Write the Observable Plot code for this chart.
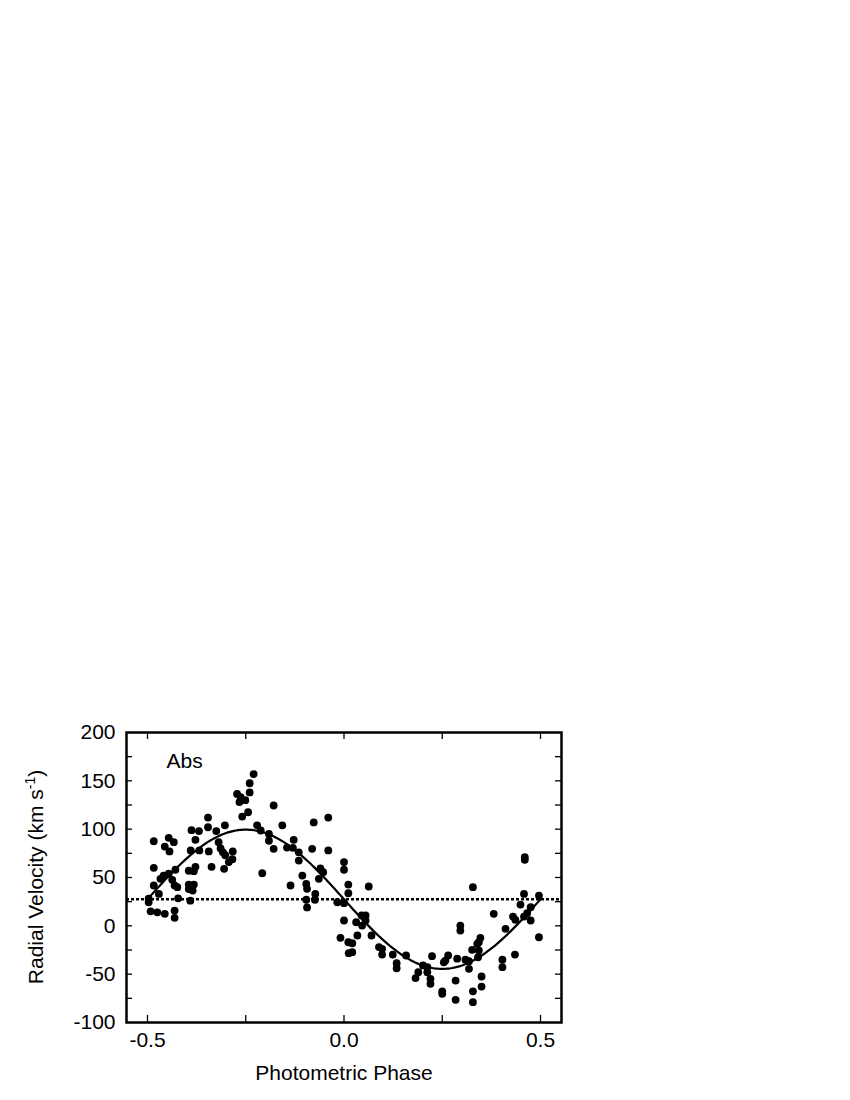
<!DOCTYPE html>
<html>
<head>
<meta charset="utf-8">
<script src="https://cdn.jsdelivr.net/npm/d3@7"></script>
<script src="https://cdn.jsdelivr.net/npm/@observablehq/plot@0.6"></script>
<style>
  html, body { margin: 0; padding: 0; background: #fff; }
  svg { display: block; }
</style>
</head>
<body>
<div id="chart"></div>
<script>
// ---- data ----
const phase = [
  -0.484, -0.446, -0.433, -0.456, -0.444, -0.346, -0.388, -0.369, -0.346, -0.325,
  -0.303, -0.378, -0.390, -0.368, -0.344, -0.319, -0.314, -0.308, -0.302, -0.283,
  -0.284, -0.293, -0.305, -0.337, -0.378, -0.382, -0.395, -0.484, -0.429, -0.446,
  -0.459, -0.467, -0.437, -0.431, -0.424, -0.484, -0.395, -0.382, -0.395, -0.385,
  -0.471, -0.497, -0.497, -0.422, -0.391, -0.492, -0.475, -0.456, -0.431, -0.431,
  -0.230, -0.240, -0.240, -0.272, -0.263, -0.251, -0.266, -0.244, -0.259, -0.179,
  -0.221, -0.212, -0.191, -0.191, -0.157, -0.179, -0.128, -0.145, -0.130, -0.115,
  -0.115, -0.081, -0.077, -0.040, -0.040, -0.208, -0.136, -0.106, -0.096, -0.094,
  -0.096, -0.094, -0.073, -0.074, -0.064, -0.060, -0.053, -0.017, 0.000, 0.000,
  0.000, 0.000, 0.011, 0.011, 0.063, 0.031, 0.045, 0.055, 0.046, 0.055,
  -0.009, 0.011, 0.021, 0.034, 0.012, 0.021, 0.070, 0.089, 0.097, 0.097,
  0.124, 0.134, 0.134, 0.158, 0.189, 0.182, 0.201, 0.212, 0.212, 0.220,
  0.220, 0.224, 0.250, 0.250, 0.254, 0.460, 0.460, 0.328, 0.458, 0.496,
  0.449, 0.475, 0.381, 0.430, 0.436, 0.458, 0.466, 0.475, 0.496, 0.296,
  0.296, 0.411, 0.347, 0.343, 0.339, 0.326, 0.343, 0.341, 0.318, 0.318,
  0.309, 0.288, 0.265, 0.258, 0.403, 0.403, 0.435, 0.284, 0.284, 0.328,
  0.328, 0.350, 0.350
];
const velocity = [
  87.5, 91, 86.5, 82, 77, 112, 99, 98, 102, 98,
  104, 89, 78, 78, 77, 86.5, 80, 76, 73, 77,
  69, 66, 59, 61, 61, 56.5, 57, 60, 58, 54,
  52, 48.6, 47.6, 41.7, 40, 41.7, 42.7, 42.7, 38, 36.5,
  33, 28, 24.4, 28.5, 26, 15, 14, 12.4, 15.8, 8.3,
  157, 147.5, 138, 136.5, 133, 130, 128, 117.5, 113, 124.5,
  104, 98.6, 95, 88, 104, 79.7, 89, 81, 80.7, 76,
  67.5, 79.7, 107, 112, 78, 54.4, 41.7, 52, 43.4, 38.3,
  27, 19, 33, 27, 48.6, 59.3, 55.5, 24.4, 66, 58,
  23.4, 5.5, 42.7, 33.7, 40.7, 3.7, 10.7, 10.7, 0.3, 5.5,
  -12.4, -17, -18, -10, -28.3, -27.3, -10, -22, -23.8, -29.7,
  -29.7, -38.7, -43.9, -30.7, -48, -54, -41, -42.8, -48, -54.8,
  -60, -31.4, -67.7, -70.3, -37.7, 71, 68.3, 40, 33, 31.3,
  22, 19.2, 12.4, 9.6, 6.2, 9.6, 13, 5.5, -11.8, 0.3,
  -4.9, -3.1, -12.4, -17, -18.6, -24.8, -25.5, -32.5, -36.6, -44.5,
  -35, -34, -30.7, -35.9, -35, -42.8, -29.7, -56.6, -76.5, -67.7,
  -79, -52.4, -62.8
];
// fitted orbit (systemic velocity and semi-amplitude, km/s)
const systemicVelocity = 27.5;
const semiAmplitude = 72;

const yTickLabels = [-100, -50, 0, 50, 100, 150, 200];
const yTickMarks = [-75, -50, -25, 0, 25, 50, 75, 100, 125, 150, 175];
const xTickLabels = [-0.5, 0, 0.5];
const xTickMarks = [-0.5, -0.25, 0, 0.25, 0.5];
const panelLabel = "Abs";
const xTitle = "Photometric Phase";
const yTitleMain = "Radial Velocity (km s";
const yTitleSup = "-1";
const yTitleEnd = ")";

// ---- layout ----
const W = 850, H = 1100;
const mL = 126, mR = 289, mT = 732, mB = 78;
const fw = W - mL - mR, fh = H - mT - mB;
const FONT = "'Liberation Sans', Arial, Helvetica, sans-serif";

const points = phase.map((p, i) => ({phase: p, rv: velocity[i]}));
const curve = d3.range(-0.5, 0.5 + 1e-9, 0.005)
  .map(p => ({phase: p, rv: systemicVelocity - semiAmplitude * Math.sin(2 * Math.PI * p)}));

const chart = Plot.plot({
  width: W,
  height: H,
  marginLeft: mL,
  marginRight: mR,
  marginTop: mT,
  marginBottom: mB,
  style: {fontFamily: FONT, fontSize: "21px", color: "#000", background: "#fff"},
  x: {domain: [-0.5534, 0.5534]},
  y: {domain: [-100, 200]},
  marks: [
    Plot.ruleY([systemicVelocity], {stroke: "#000", strokeWidth: 2.5, strokeDasharray: "3,2"}),
    Plot.line(curve, {x: "phase", y: "rv", stroke: "#000", strokeWidth: 2.2}),
    Plot.dot(points, {x: "phase", y: "rv", r: 3.9, fill: "#000", stroke: "none"}),
    // inward ticks on all four sides
    Plot.tickY(yTickMarks, {y: d => d, insetRight: fw - 6, stroke: "#000", strokeWidth: 1.3}),
    Plot.tickY(yTickMarks, {y: d => d, insetLeft: fw - 6, stroke: "#000", strokeWidth: 1.3}),
    Plot.tickX(xTickMarks, {x: d => d, insetTop: fh - 7, stroke: "#000", strokeWidth: 1.3}),
    Plot.tickX(xTickMarks, {x: d => d, insetBottom: fh - 7, stroke: "#000", strokeWidth: 1.3}),
    Plot.frame({stroke: "#000", strokeWidth: 2.5}),
    Plot.axisX(xTickLabels, {tickSize: 0, tickPadding: 10, tickFormat: d => d.toFixed(1), label: null, fill: "#000"}),
    Plot.axisY(yTickLabels, {tickSize: 0, tickPadding: 11, tickFormat: d => String(d), label: null, fill: "#000"}),
    Plot.text([panelLabel], {frameAnchor: "top-left", textAnchor: "start", lineAnchor: "top", dx: 40, dy: 21, fill: "#000"}),
    Plot.text([xTitle], {frameAnchor: "bottom", textAnchor: "middle", lineAnchor: "bottom", dy: 57, fill: "#000"})
  ]
});

// y-axis title with superscript
const svg = d3.select(chart);
const yt = svg.append("text")
  .attr("transform", `translate(43,${mT + fh / 2}) rotate(-90)`)
  .attr("text-anchor", "middle")
  .attr("font-family", FONT)
  .attr("font-size", 21)
  .attr("fill", "#000");
yt.append("tspan").text(yTitleMain);
yt.append("tspan").attr("font-size", 14).attr("dy", -8).text(yTitleSup);
yt.append("tspan").attr("dy", 8).text(yTitleEnd);

document.getElementById("chart").appendChild(chart);
</script>
</body>
</html>
